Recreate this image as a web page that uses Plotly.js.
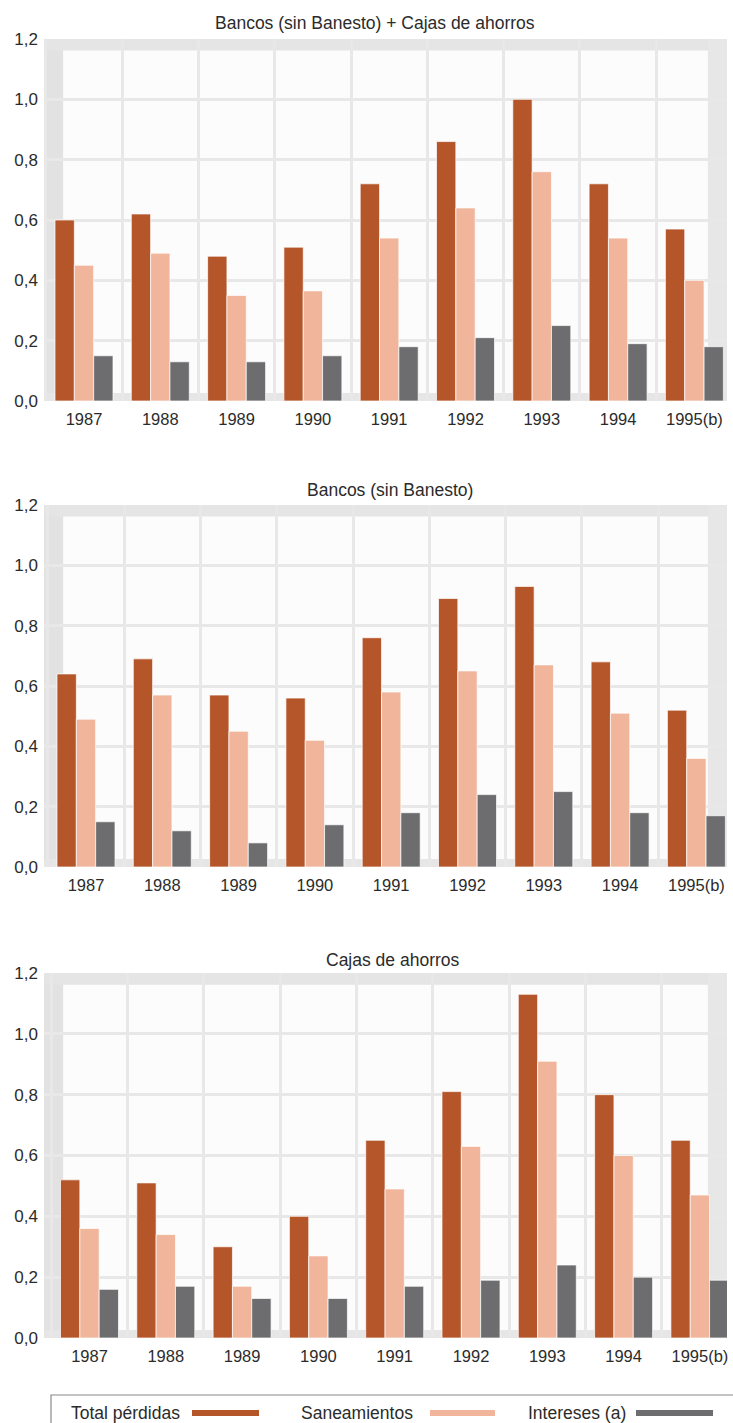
<!DOCTYPE html>
<html>
<head>
<meta charset="utf-8">
<script src="https://cdn.plot.ly/plotly-3.0.1.min.js"></script>
<style>html,body{margin:0;padding:0;background:#fff;}#chart{width:733px;height:1423px;}</style>
</head>
<body>
<div id="chart"></div>
<script>
// ---- Data ----
const years = ['1987','1988','1989','1990','1991','1992','1993','1994','1995(b)'];
const panelTitles = ['Bancos (sin Banesto) + Cajas de ahorros','Bancos (sin Banesto)','Cajas de ahorros'];
const seriesNames = ['Total pérdidas','Saneamientos','Intereses (a)'];
const yTickVals = [0, 0.2, 0.4, 0.6, 0.8, 1.0, 1.2];
const yTickText = ['0,0','0,2','0,4','0,6','0,8','1,0','1,2'];

// Bancos (sin Banesto) + Cajas de ahorros
const totalAll = [0.60, 0.62, 0.48, 0.51, 0.72, 0.86, 1.00, 0.72, 0.57];
const saneAll  = [0.45, 0.49, 0.35, 0.365, 0.54, 0.64, 0.76, 0.54, 0.40];
const intAll   = [0.15, 0.13, 0.13, 0.15, 0.18, 0.21, 0.25, 0.19, 0.18];
// Bancos (sin Banesto)
const totalBancos = [0.64, 0.69, 0.57, 0.56, 0.76, 0.89, 0.93, 0.68, 0.52];
const saneBancos  = [0.49, 0.57, 0.45, 0.42, 0.58, 0.65, 0.67, 0.51, 0.36];
const intBancos   = [0.15, 0.12, 0.08, 0.14, 0.18, 0.24, 0.25, 0.18, 0.17];
// Cajas de ahorros
const totalCajas = [0.52, 0.51, 0.30, 0.40, 0.65, 0.81, 1.13, 0.80, 0.65];
const saneCajas  = [0.36, 0.34, 0.17, 0.27, 0.49, 0.63, 0.91, 0.60, 0.47];
const intCajas   = [0.16, 0.17, 0.13, 0.13, 0.17, 0.19, 0.24, 0.20, 0.19];

// ---- Styling ----
const W = 733, H = 1423;
const colors = ['#B5552A', '#F0B59B', '#6D6D70'];
const FONT = 'Liberation Sans, Arial, Helvetica, sans-serif';
const TXT = '#2b2b2b';
const panels = [
  {tot: totalAll, san: saneAll, int: intAll, top: 39, bot: 401, c0: 84, titleY: 23, titleX: 375},
  {tot: totalBancos, san: saneBancos, int: intBancos, top: 505, bot: 867, c0: 86, titleY: 490, titleX: 390},
  {tot: totalCajas, san: saneCajas, int: intCajas, top: 973, bot: 1338, c0: 89.5, titleY: 960, titleX: 393}
];
const left = 44, right = 727, pitch = 76.3;

const traces = [];
const layout = {
  width: W, height: H,
  margin: {l: 0, r: 0, t: 0, b: 0},
  paper_bgcolor: '#ffffff',
  plot_bgcolor: '#fcfcfc',
  barmode: 'group', bargap: 0.24, bargroupgap: 0,
  showlegend: false,
  font: {family: FONT, color: TXT},
  shapes: [], annotations: []
};

panels.forEach((p, i) => {
  const sx = i === 0 ? '' : String(i + 1);
  const xa = 'x' + sx, ya = 'y' + sx;
  [p.tot, p.san, p.int].forEach((vals, k) => {
    traces.push({
      type: 'bar', x: years, y: vals, name: seriesNames[k],
      xaxis: xa, yaxis: ya,
      marker: {color: colors[k], line: {color: 'rgba(255,255,255,0.7)', width: 1}},
      hoverinfo: 'skip'
    });
  });
  layout['xaxis' + sx] = {
    type: 'category', anchor: ya,
    domain: [left / W, right / W],
    range: [-(p.c0 - left) / pitch, (right - p.c0) / pitch],
    tickson: 'boundaries', ticks: '',
    showgrid: true, gridcolor: '#e8e8e8', gridwidth: 3,
    showline: false, zeroline: false,
    tickfont: {size: 16.5, color: TXT, family: FONT},
    ticklabelstandoff: 6, fixedrange: true
  };
  layout['yaxis' + sx] = {
    anchor: xa,
    domain: [1 - p.bot / H, 1 - p.top / H],
    range: [0, 1.2],
    tickvals: yTickVals, ticktext: yTickText, ticks: '',
    showgrid: true, gridcolor: '#e8e8e8', gridwidth: 3,
    showline: false, zeroline: false,
    tickfont: {size: 17, color: TXT, family: FONT},
    ticklabelstandoff: 5, fixedrange: true
  };
  const xr = xa + ' domain', yr = ya + ' domain';
  const band = (x0, x1, y0, y1, c) => layout.shapes.push({
    type: 'rect', xref: xr, yref: yr, x0, x1, y0, y1,
    fillcolor: c, line: {width: 0}, layer: 'below'
  });
  band(0, 0.028, 0, 1, '#e2e2e2');
  band(0, 1, 0.968, 1, '#e5e5e5');
  band(0.972, 1, 0, 1, '#e7e7e7');
  band(0, 1, 0, 0.022, '#e6e6e6');
  layout.annotations.push({
    xref: 'paper', yref: 'paper',
    x: p.titleX / W, y: 1 - p.titleY / H,
    xanchor: 'center', yanchor: 'middle',
    text: panelTitles[i], showarrow: false,
    font: {size: 17.5, color: TXT, family: FONT}
  });
});

// ---- Legend (text followed by swatch, as in the original) ----
const legTextX = [69, 299, 526];
const legSwX = [[192, 259], [430, 495], [636, 713]];
const legY = 1413;
layout.shapes.push({
  type: 'path', xref: 'paper', yref: 'paper',
  path: `M ${51 / W} ${1 - 1440 / H} L ${51 / W} ${1 - 1395 / H} L ${760 / W} ${1 - 1395 / H}`,
  line: {color: '#8a8a8a', width: 1.2}
});
seriesNames.forEach((name, k) => {
  layout.annotations.push({
    xref: 'paper', yref: 'paper', x: legTextX[k] / W, y: 1 - legY / H,
    xanchor: 'left', yanchor: 'middle', text: name, showarrow: false,
    font: {size: 17.5, color: TXT, family: FONT}
  });
  layout.shapes.push({
    type: 'rect', xref: 'paper', yref: 'paper',
    x0: legSwX[k][0] / W, x1: legSwX[k][1] / W,
    y0: 1 - (legY + 3) / H, y1: 1 - (legY - 3) / H,
    fillcolor: colors[k], line: {width: 0}
  });
});

Plotly.newPlot('chart', traces, layout, {staticPlot: true, displayModeBar: false});
</script>
</body>
</html>
